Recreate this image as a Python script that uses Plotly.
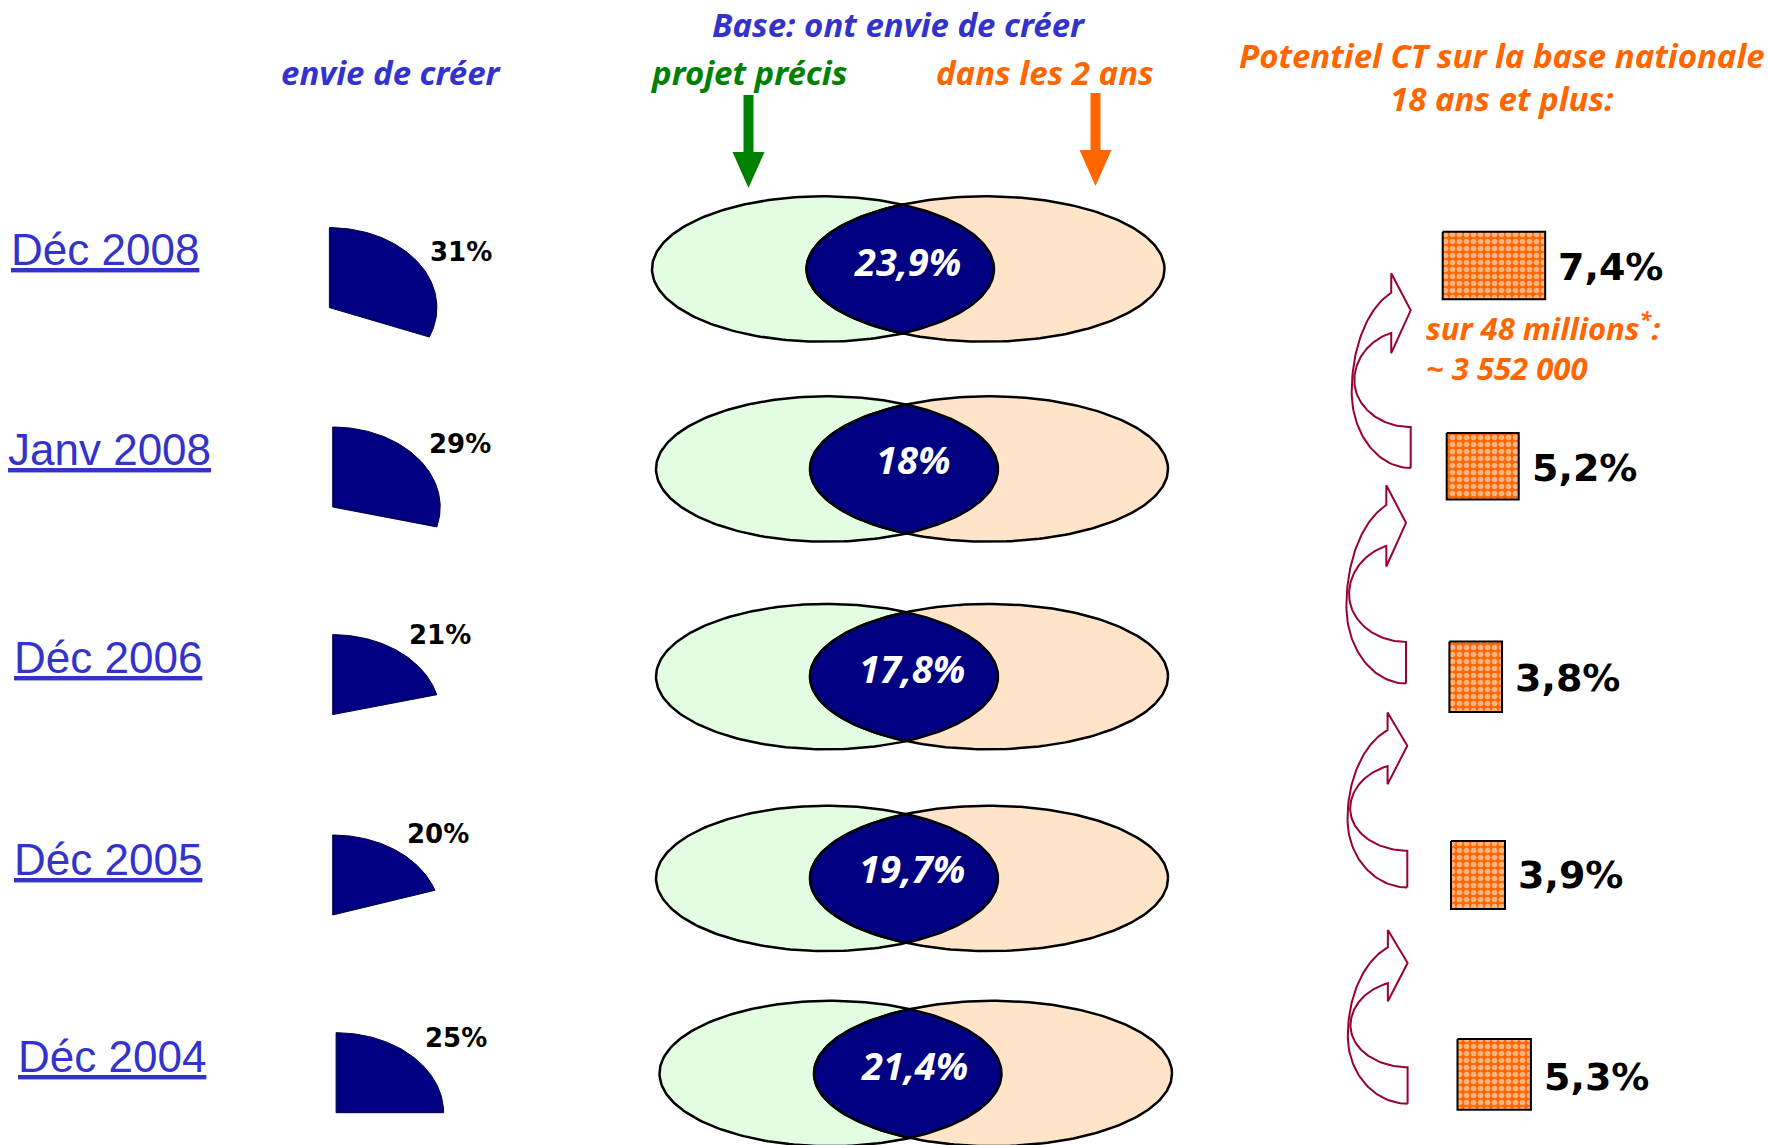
import numpy as np
import plotly.graph_objects as go

W, H = 1768, 1145

# ---------------- data ----------------
periods = ["Déc 2008", "Janv 2008", "Déc 2006", "Déc 2005", "Déc 2004"]
envie_pct = [31, 29, 21, 20, 25]                 # "envie de créer"
overlap_pct = [23.9, 18, 17.8, 19.7, 21.4]       # projet précis ∩ dans les 2 ans
potentiel_pct = [7.4, 5.2, 3.8, 3.9, 5.3]        # potentiel CT

header_base = "Base: ont envie de créer"
header_envie = "envie de créer"
header_projet = "projet précis"
header_2ans = "dans les 2 ans"
header_potentiel = "Potentiel CT sur la base nationale<br>18 ans et plus:"
note_text = "sur 48 millions<sup>*</sup>:<br>~ 3 552 000"

# ---------------- layout geometry (pixels) ----------------
row_y = [269, 469, 676.6, 878.4, 1073.5]
venn_left_cx = [823, 827, 827, 827, 830.5]
venn_right_cx = [985.5, 989, 989, 989, 993]
VENN_RX_L, VENN_RX_R, VENN_RY = 171, 179, 72.7
lens_text_xy = [(907.7, 260.5), (913, 459), (912, 667.5), (912, 868), (914.5, 1064.5)]
pie_cx = [329.4, 332.7, 332.7, 332.7, 336.1]
pie_cy = [307.6, 507, 714.6, 915, 1112.7]
PIE_RX, PIE_RY = 107.5, 80
pie_lbl_xy = [(461, 251.5), (460, 444), (440, 635), (437.5, 834), (455.5, 1038)]
year_xy = [(105, 249), (109, 449), (108, 657), (108, 859), (112, 1056)]
sq_x0 = [1442.7, 1446.7, 1449.4, 1451, 1457.5]
sq_y = [(231.7, 299.3), (433, 499.5), (641.6, 712), (841, 909), (1039, 1109.8)]
PX_PER_PT = 13.85
val_lbl_y = [267, 467.5, 678, 875, 1076.5]
curve_frames = [(1351.7, 1410.7, 273.3, 468), (1346.4, 1406, 485.2, 683.5),
                (1347.5, 1407.3, 712.6, 887.4), (1347.8, 1407.6, 930, 1103.7)]

BLUE = "#3333CC"
NAVY = "#000080"
GREEN = "#008000"
ORANGE = "#FF6600"
CRIMSON = "#990033"


def fmt(v):
    return f"{v:g}".replace(".", ",") + "%"


fig = go.Figure()


def poly(xs, ys, fill=None, line_color="black", width=0, **kw):
    fig.add_trace(go.Scatter(
        x=list(xs), y=list(ys), mode="lines",
        fill="toself" if fill else None, fillcolor=fill,
        line=dict(color=line_color, width=width),
        hoverinfo="skip", showlegend=False, **kw))


# ---- pie wedges (envie de créer) ----
for i, v in enumerate(envie_pct):
    t = np.linspace(0, 2 * np.pi * v / 100.0, 80)
    xs = np.concatenate([[pie_cx[i]], pie_cx[i] + PIE_RX * np.sin(t), [pie_cx[i]]])
    ys = np.concatenate([[pie_cy[i]], pie_cy[i] - PIE_RY * np.cos(t), [pie_cy[i]]])
    poly(xs, ys, fill=NAVY, line_color="#000040", width=1)

# ---- venn diagrams ----
tt = np.linspace(0, 2 * np.pi, 240)
for i in range(len(periods)):
    cy = row_y[i]
    cl, cr = venn_left_cx[i], venn_right_cx[i]
    poly(cl + VENN_RX_L * np.cos(tt), cy + VENN_RY * np.sin(tt), fill="#E3FDE3", width=2.5)
    poly(cr + VENN_RX_R * np.cos(tt), cy + VENN_RY * np.sin(tt), fill="#FFE4C9", width=2.5)
    xs_ = (cl * VENN_RX_R + cr * VENN_RX_L) / (VENN_RX_L + VENN_RX_R)
    tl = np.arccos((xs_ - cl) / VENN_RX_L)
    trr = np.arccos((cr - xs_) / VENN_RX_R)
    a = np.linspace(-tl, tl, 80)
    b = np.linspace(np.pi - trr, np.pi + trr, 80)
    lx = np.concatenate([cl + VENN_RX_L * np.cos(a), cr + VENN_RX_R * np.cos(b)])
    ly = np.concatenate([cy + VENN_RY * np.sin(a), cy + VENN_RY * np.sin(b)])
    lx = np.append(lx, lx[0]); ly = np.append(ly, ly[0])
    poly(lx, ly, fill=NAVY, width=2.5)

# ---- potentiel squares (width proportional to value) ----
for i, v in enumerate(potentiel_pct):
    x0 = sq_x0[i]; x1 = x0 + v * PX_PER_PT
    y0, y1 = sq_y[i]
    fig.add_trace(go.Scatter(
        x=[x0, x1, x1, x0, x0], y=[y0, y0, y1, y1, y0], mode="lines",
        fill="toself", fillcolor=ORANGE,
        fillpattern=dict(shape=".", fgcolor="white", bgcolor=ORANGE, size=7, solidity=0.5),
        line=dict(color="black", width=2), hoverinfo="skip", showlegend=False))
    fig.add_annotation(x=x1 + 11, y=val_lbl_y[i], text=fmt(v), showarrow=False,
                       xanchor="left", yanchor="middle",
                       font=dict(family="DejaVu Sans", size=38, color="black", weight="bold"))

# ---- curved arrows ----
def curved_arrow(x0, x1, y0, y1):
    u = [1.0, 1.0]; v = [1.0, 0.79]
    s = np.linspace(np.pi, np.pi / 2, 40)
    u += list(1 - 0.955 * np.sin(s)); v += list(0.55 - 0.24 * np.cos(s))
    s = np.linspace(np.pi / 2, np.arcsin(0.33 / 0.955), 40)
    u += list(1 - 0.955 * np.sin(s)); v += list(0.55 - 0.26 * np.cos(s))
    u += [0.67, 1.0, 0.67, 0.67]; v += [0.41, 0.19, 0.0, 0.10]
    s = np.linspace(np.arcsin(0.33), np.pi / 2, 40)
    u += list(1 - np.sin(s)); v += list(0.61 - 0.54 * np.cos(s))
    s = np.linspace(np.pi / 2, np.pi, 40)
    u += list(1 - np.sin(s)); v += list(0.61 - 0.39 * np.cos(s))
    u = np.array(u); v = np.array(v)
    return x0 + u * (x1 - x0), y0 + v * (y1 - y0)


for fr in curve_frames:
    xs, ys = curved_arrow(*fr)
    poly(xs, ys, line_color=CRIMSON, width=2)

# ---- straight header arrows ----
def down_arrow(cx, top, head_top, tip, color):
    sw, hw = 5, 16
    poly([cx - sw, cx + sw, cx + sw, cx + hw, cx, cx - hw, cx - sw, cx - sw],
         [top, top, head_top, head_top, tip, head_top, head_top, top], fill=color, line_color=color, width=0)


down_arrow(748.5, 95, 152, 188, GREEN)
down_arrow(1095.5, 93, 150, 186, ORANGE)

# ---- texts ----
def hdr(x, y, text, color, size=33, xanchor="center", align="center"):
    fig.add_annotation(x=x, y=y, text=text, showarrow=False, xanchor=xanchor, yanchor="middle",
                       align=align,
                       font=dict(family="Noto Sans", size=size, color=color, weight="bold", style="italic"))


hdr(899, 24, header_base, BLUE)
hdr(391, 72, header_envie, BLUE)
hdr(749, 72, header_projet, GREEN)
hdr(1045, 72, header_2ans, ORANGE)
hdr(1502, 77, header_potentiel, ORANGE)
hdr(1424, 346, note_text, ORANGE, size=31, xanchor="left", align="left")

for i, p in enumerate(periods):
    fig.add_annotation(x=year_xy[i][0], y=year_xy[i][1], text=p, showarrow=False,
                       xanchor="center", yanchor="middle",
                       font=dict(family="Liberation Sans", size=44, color=BLUE, lineposition="under"))
    fig.add_annotation(x=pie_lbl_xy[i][0], y=pie_lbl_xy[i][1], text=fmt(envie_pct[i]), showarrow=False,
                       xanchor="center", yanchor="middle",
                       font=dict(family="DejaVu Sans", size=26, color="black", weight="bold"))
    fig.add_annotation(x=lens_text_xy[i][0], y=lens_text_xy[i][1], text=fmt(overlap_pct[i]), showarrow=False,
                       xanchor="center", yanchor="middle",
                       font=dict(family="Noto Sans", size=38, color="white", style="italic", weight="bold"))

fig.update_layout(
    width=W, height=H, margin=dict(l=0, r=0, t=0, b=0),
    paper_bgcolor="white", plot_bgcolor="white", showlegend=False,
    xaxis=dict(range=[0, W], visible=False, fixedrange=True),
    yaxis=dict(range=[H, 0], visible=False, fixedrange=True),
)

fig.write_html("out.html", config={"displayModeBar": False},
               post_script="document.body.style.margin='0px';document.body.style.overflow='hidden';")
